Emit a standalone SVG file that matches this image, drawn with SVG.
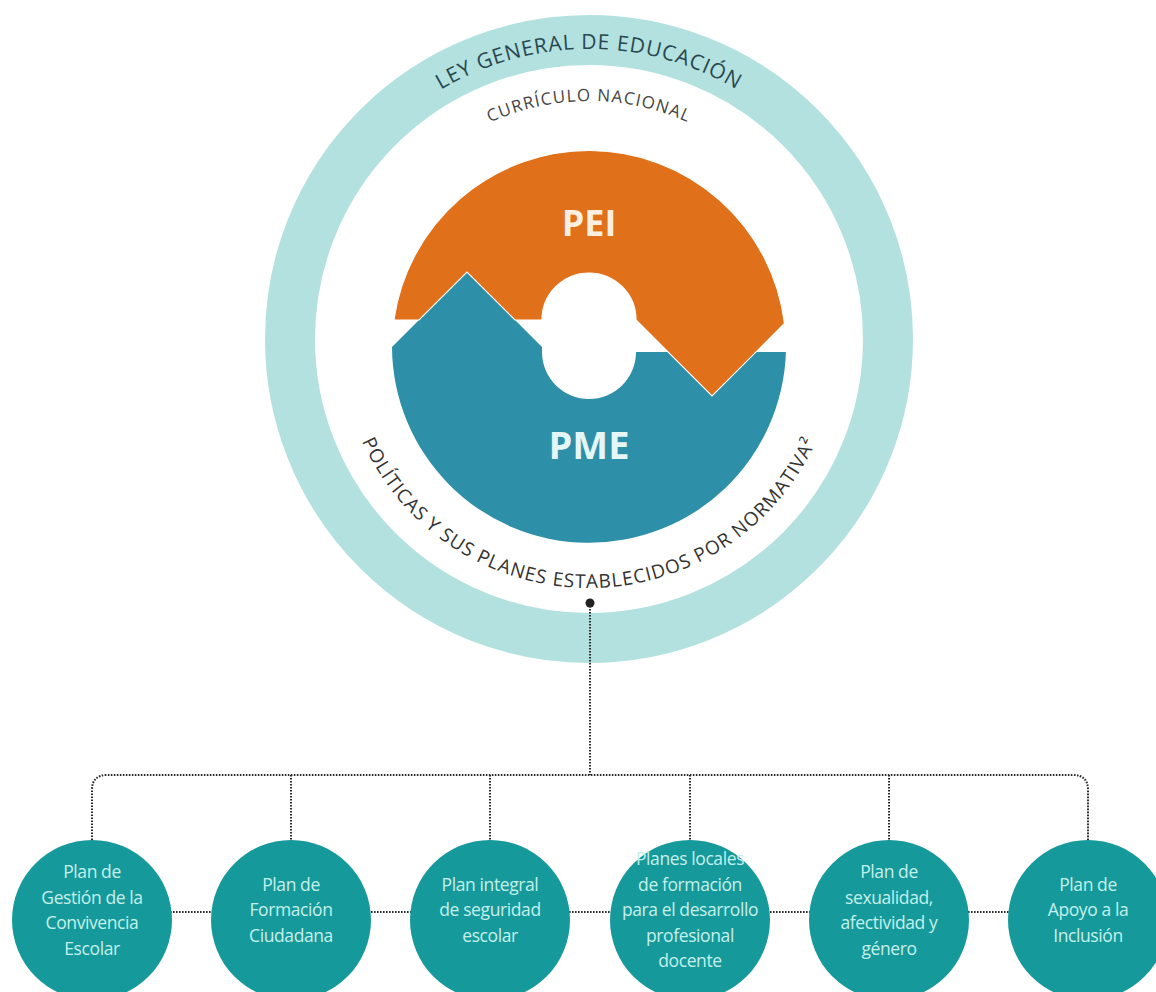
<svg xmlns="http://www.w3.org/2000/svg" width="1156" height="992" viewBox="0 0 1156 992">
<defs>
<style>
.ring{fill:none;stroke:#b3e1df;stroke-width:50}
.arcTop{font-family:"Open Sans","Noto Sans",sans-serif;font-size:21px;fill:#284850;letter-spacing:0.9px}
.arcCur{font-family:"Open Sans","Noto Sans",sans-serif;font-size:17px;fill:#454545;letter-spacing:1.2px}
.arcBot{font-family:"Open Sans","Noto Sans",sans-serif;font-size:19px;fill:#333333;letter-spacing:1px}
.big{font-family:"Open Sans","Noto Sans",sans-serif;font-weight:700;text-anchor:middle}
.plan{fill:#16999a}
.pt{font-family:"Open Sans","Noto Sans",sans-serif;font-size:17.5px;fill:#c4f0ec;text-anchor:middle;letter-spacing:-0.4px}
.dot{fill:none;stroke:#2a2a2a;stroke-width:2;stroke-dasharray:1.6 1.4}
</style>
<path id="pTop" d="M 299 339 A 290 290 0 0 1 879 339"/>
<path id="pCur" d="M 351 339 A 238 238 0 0 1 827 339"/>
<path id="pBot" d="M 340 339 A 249 249 0 0 0 838 339"/>
</defs>
<g id="outer-ring">
<circle class="ring" cx="589" cy="339" r="299"/>
<text class="arcTop"><textPath href="#pTop" startOffset="50%" text-anchor="middle">LEY GENERAL DE EDUCACIÓN</textPath></text>
</g>
<g id="curriculo">
<text class="arcCur"><textPath href="#pCur" startOffset="50%" text-anchor="middle">CURRÍCULO NACIONAL</textPath></text>
</g>
<g id="pme">
<path fill="#2d8fa8" d="M 392 347 L 467 272 L 542 347 L 542 352 A 47 47 0 0 0 636 352 L 785.9 352 A 197 197 0 0 1 392 347 Z"/>
<text class="big" x="589" y="459" font-size="38" fill="#e4f6f5">PME</text>
</g>
<g id="pei">
<path fill="#e07019" stroke="#ffffff" stroke-width="1.2" d="M 393.9 320 L 419 320 L 467 272 L 515 320 L 542 320 A 47 47 0 0 1 636 320 L 712 396 L 784.5 323.5 A 197 197 0 0 0 393.9 320 Z"/>
<text class="big" x="589" y="236" font-size="36" fill="#fcefe2">PEI</text>
</g>
<g id="politicas">
<text class="arcBot"><textPath href="#pBot" startOffset="50%" text-anchor="middle">POLÍTICAS Y SUS PLANES ESTABLECIDOS POR NORMATIVA²</textPath></text>
</g>
<g id="connectors">
<circle cx="590" cy="603" r="4.5" fill="#222"/>
<path class="dot" d="M 590 603 V 775"/>
<path class="dot" d="M 92 840 V 790 Q 92 775 107 775 H 1073 Q 1088 775 1088 790 V 840"/>
<path class="dot" d="M 291 775 V 840 M 490 775 V 840 M 690 775 V 840 M 889 775 V 840"/>
<path class="dot" d="M 92 912 H 1088"/>
</g>
<g id="plan1">
<circle class="plan" cx="92" cy="920" r="80"/>
<text class="pt"><tspan x="92" y="878">Plan de</tspan><tspan x="92" y="903.5">Gestión de la</tspan><tspan x="92" y="929">Convivencia</tspan><tspan x="92" y="954.5">Escolar</tspan></text>
</g>
<g id="plan2">
<circle class="plan" cx="291" cy="920" r="80"/>
<text class="pt"><tspan x="291" y="890.5">Plan de</tspan><tspan x="291" y="916">Formación</tspan><tspan x="291" y="941.5">Ciudadana</tspan></text>
</g>
<g id="plan3">
<circle class="plan" cx="490" cy="920" r="80"/>
<text class="pt"><tspan x="490" y="890.5">Plan integral</tspan><tspan x="490" y="916">de seguridad</tspan><tspan x="490" y="941.5">escolar</tspan></text>
</g>
<g id="plan4">
<circle class="plan" cx="690" cy="920" r="80"/>
<text class="pt"><tspan x="690" y="865">Planes locales</tspan><tspan x="690" y="890.5">de formación</tspan><tspan x="690" y="916">para el desarrollo</tspan><tspan x="690" y="941.5">profesional</tspan><tspan x="690" y="967">docente</tspan></text>
</g>
<g id="plan5">
<circle class="plan" cx="889" cy="920" r="80"/>
<text class="pt"><tspan x="889" y="878">Plan de</tspan><tspan x="889" y="903.5">sexualidad,</tspan><tspan x="889" y="929">afectividad y</tspan><tspan x="889" y="954.5">género</tspan></text>
</g>
<g id="plan6">
<circle class="plan" cx="1088" cy="920" r="80"/>
<text class="pt"><tspan x="1088" y="890.5">Plan de</tspan><tspan x="1088" y="916">Apoyo a la</tspan><tspan x="1088" y="941.5">Inclusión</tspan></text>
</g>
</svg>
